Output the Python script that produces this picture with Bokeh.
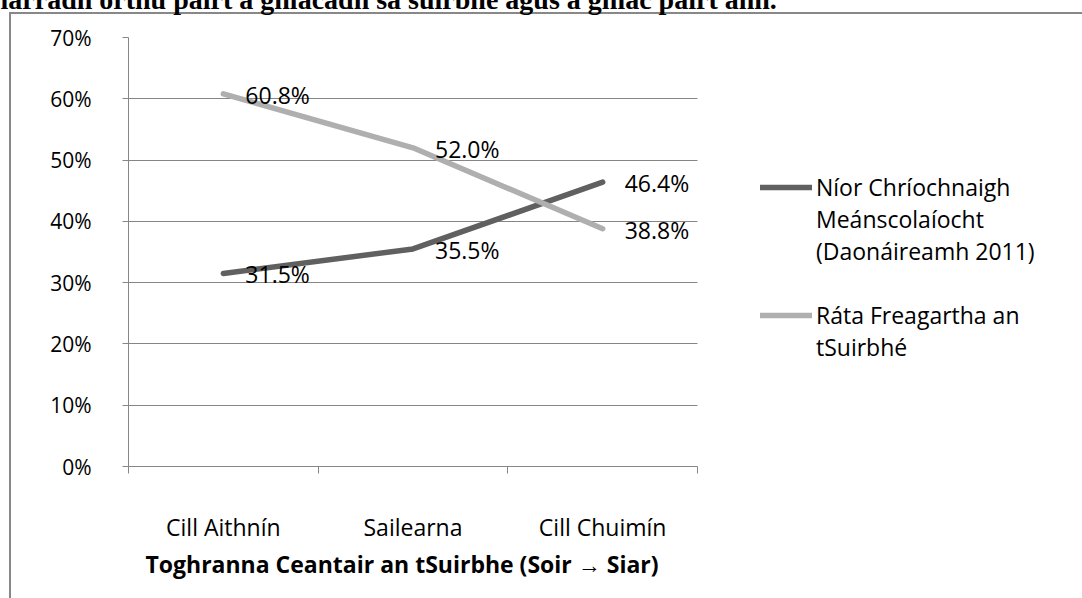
from bokeh.plotting import figure
from bokeh.models import FixedTicker, Legend, LegendItem, ColumnDataSource, Grid, Title
from bokeh.core.properties import value
from bokeh.embed import file_html
from bokeh.resources import INLINE

# ---- data ----
categories = ["Cill Aithnín", "Sailearna", "Cill Chuimín"]
series_names = ["Níor Chríochnaigh\nMeánscolaíocht\n(Daonáireamh 2011)",
                "Ráta Freagartha an\ntSuirbhé"]
not_completed = [31.5, 35.5, 46.4]
response_rate = [60.8, 52.0, 38.8]
y_ticks = [0, 10, 20, 30, 40, 50, 60, 70]
x_title = "Toghranna Ceantair an tSuirbhe (Soir \u2192 Siar)"
page_text = "iarradh orthu páirt a ghlacadh sa suirbhé agus a ghlac páirt ann."

FONT = "Open Sans"
GRID = "#868686"
DARK = "#606060"
LIGHT = "#AFAFAF"
SHIFT = 43          # figure is pulled up so the page text above the chart is cut as in the original
W, LEFT = 1082, 128
PLOT_W = 569        # width of the category area; the legend sits to its right inside the frame

n = len(categories)
xs = [i + 0.5 for i in range(n)]
x_end = n * (W - LEFT) / PLOT_W

p = figure(width=W, height=598 + SHIFT, x_range=(0, x_end), y_range=(0, 70),
           output_backend="svg", toolbar_location=None,
           min_border_left=LEFT, min_border_right=0, min_border_top=37 + SHIFT, min_border_bottom=132,
           margin=(-SHIFT, 0, 0, 0))
p.outline_line_color = None
p.background_fill_color = None
p.border_fill_color = None
p.styles = {"background": f"linear-gradient(#888888,#888888) 9px {12 + SHIFT}px / 2px 100% no-repeat, "
                          f"linear-gradient(#888888,#888888) 9px {12 + SHIFT}px / 100% 2px no-repeat, white"}

# page text above the chart
p.title.text = page_text
p.title.text_font = "Liberation Serif"
p.title.text_font_size = "28px"
p.title.text_font_style = "bold"
p.title.text_color = "black"
p.title.align = "left"
p.title.offset = -LEFT
p.title.vertical_align = "bottom"
p.title.standoff = 46

# y axis
p.yaxis.ticker = FixedTicker(ticks=y_ticks, minor_ticks=[])
p.yaxis.major_label_overrides = {t: f"{t}%" for t in y_ticks}
p.yaxis.axis_line_color = GRID
p.yaxis.major_tick_line_color = GRID
p.yaxis.major_tick_out = 6
p.yaxis.major_tick_in = 0
p.yaxis.minor_tick_line_color = None
p.yaxis.major_label_text_font = FONT
p.yaxis.major_label_text_font_size = "21px"
p.yaxis.major_label_text_color = "black"
p.yaxis.major_label_standoff = 31

# x axis (limited to the category area)
p.xaxis.bounds = (0, n)
p.xaxis.ticker = FixedTicker(ticks=xs, minor_ticks=list(range(n + 1)))
p.xaxis.major_label_overrides = {x: c for x, c in zip(xs, categories)}
p.xaxis.axis_line_color = GRID
p.xaxis.major_tick_out = 0
p.xaxis.major_tick_in = 0
p.xaxis.major_tick_line_color = None
p.xaxis.minor_tick_out = 7
p.xaxis.minor_tick_in = 0
p.xaxis.minor_tick_line_color = GRID
p.xaxis.major_label_text_font = FONT
p.xaxis.major_label_text_font_size = "23px"
p.xaxis.major_label_text_color = "black"
p.xaxis.major_label_standoff = 37

# x axis title, centred under the category area
p.add_layout(Title(text=x_title, text_font=FONT, text_font_size="23px", text_font_style="bold",
                   text_color="black", align="left", offset=17, vertical_align="top",
                   standoff=4), "below")

p.xgrid.visible = False
if "cross_bounds" in Grid.properties():
    p.ygrid.cross_bounds = (0, n)
    p.ygrid.grid_line_color = GRID
    p.ygrid.grid_line_width = 1
else:
    p.ygrid.visible = False
    p.segment(x0=[0] * len(y_ticks), y0=y_ticks, x1=[n] * len(y_ticks), y1=y_ticks,
              line_color=GRID, line_width=1)

# lines
r1 = p.line(xs, not_completed, line_color=DARK, line_width=5.5, line_cap="round", line_join="round")
r2 = p.line(xs, response_rate, line_color=LIGHT, line_width=5.5, line_cap="round", line_join="round")
blank = p.line(xs, not_completed, line_alpha=0)  # invisible: used for the wrapped legend lines

# data labels
src1 = ColumnDataSource(dict(x=xs, y=not_completed, t=[f"{v:.1f}%" for v in not_completed]))
src2 = ColumnDataSource(dict(x=xs, y=response_rate, t=[f"{v:.1f}%" for v in response_rate]))
for s in (src1, src2):
    p.text(x="x", y="y", text="t", source=s, x_offset=22, y_offset=1,
           text_font=value(FONT), text_font_size="23px", text_color="black",
           text_baseline="middle", text_align="left")

# legend: one entry per wrapped line, the sample line on the first line of each series
items = []
for k, (name, rend) in enumerate(zip(series_names, (r1, r2))):
    if k > 0:
        items.append(LegendItem(label=" ", renderers=[blank]))
    for j, line in enumerate(name.split("\n")):
        items.append(LegendItem(label=line, renderers=[rend if j == 0 else blank]))

legend = Legend(items=items, location=(632, 103))
legend.label_text_font = FONT
legend.label_text_font_size = "23px"
legend.label_text_color = "black"
legend.glyph_width = 52
legend.glyph_height = 20
legend.label_height = 32
legend.label_standoff = 4
legend.spacing = 0
legend.padding = 0
legend.margin = 0
legend.border_line_color = None
legend.background_fill_alpha = 0
p.add_layout(legend)

open("out.html", "w").write(file_html(p, INLINE))
